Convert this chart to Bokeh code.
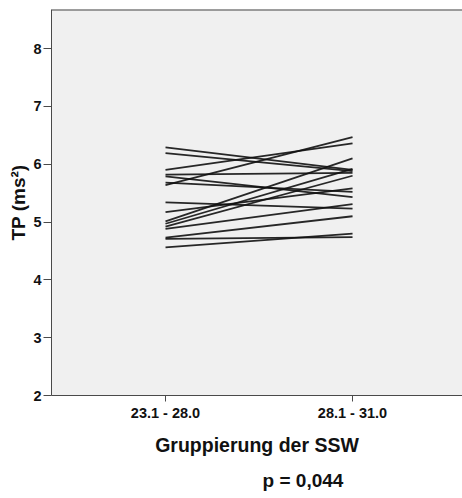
from bokeh.plotting import figure
from bokeh.models import FixedTicker, Span, LinearAxis
from bokeh.embed import file_html
from bokeh.resources import INLINE

# Gestational-age groups (weeks of pregnancy)
groups = ["23.1 - 28.0", "28.1 - 31.0"]

# TP (ms²) per subject: first group value, second group value
tp_first = [6.29, 6.19, 5.90, 5.82, 5.79, 5.68, 5.64, 5.34,
            5.17, 5.01, 4.97, 4.92, 4.88, 4.73, 4.71, 4.56]
tp_second = [5.90, 5.88, 6.36, 5.85, 5.43, 5.52, 6.47, 5.23,
             5.58, 6.10, 5.92, 5.80, 5.31, 5.10, 4.74, 4.80]

y_ticks = [2, 3, 4, 5, 6, 7, 8]
p_text = "p = 0,044"

FONT = "Liberation Sans"
AXIS_GREY = "#4a4a4a"
TEXT = "#111111"

p = figure(
    width=462, height=498,
    x_range=(-0.6096, 1.588), y_range=(2, 8.675),
    min_border_left=51, min_border_right=0,
    min_border_top=9, min_border_bottom=103,
    output_backend="svg", toolbar_location=None,
)

p.background_fill_color = "#f0f0f0"
p.border_fill_color = "white"
p.outline_line_color = None
p.xgrid.visible = False
p.ygrid.visible = False

# one line per subject between the two groups
xs = [[0, 1] for _ in tp_first]
ys = [[a, b] for a, b in zip(tp_first, tp_second)]
p.multi_line(xs, ys, line_color="#111111", line_width=1.8, line_alpha=0.9)

# top border of the plot frame
p.add_layout(Span(location=8.675, dimension="width",
                  line_color="#444444", line_width=2))

# x axis
p.xaxis.ticker = FixedTicker(ticks=list(range(len(groups))))
p.xaxis.major_label_overrides = {i: g for i, g in enumerate(groups)}
p.xaxis.minor_tick_line_color = None
p.xaxis.major_tick_out = 6
p.xaxis.major_tick_in = 0
p.xaxis.axis_line_color = AXIS_GREY
p.xaxis.major_tick_line_color = AXIS_GREY
p.xaxis.major_label_standoff = 3
p.xaxis.major_label_text_font = FONT
p.xaxis.major_label_text_font_style = "bold"
p.xaxis.major_label_text_font_size = "14.5px"
p.xaxis.major_label_text_color = TEXT
p.xaxis.axis_label = "Gruppierung der SSW"
p.xaxis.axis_label_text_font = FONT
p.xaxis.axis_label_text_font_style = "bold"
p.xaxis.axis_label_text_font_size = "19.5px"
p.xaxis.axis_label_text_color = TEXT
p.xaxis.axis_label_standoff = 10

# y axis
p.yaxis.ticker = FixedTicker(ticks=y_ticks)
p.yaxis.minor_tick_line_color = None
p.yaxis.major_tick_out = 8
p.yaxis.major_tick_in = 0
p.yaxis.axis_line_color = AXIS_GREY
p.yaxis.major_tick_line_color = AXIS_GREY
p.yaxis.major_label_standoff = 2
p.yaxis.major_label_text_font = FONT
p.yaxis.major_label_text_font_style = "bold"
p.yaxis.major_label_text_font_size = "14.5px"
p.yaxis.major_label_text_color = TEXT
p.yaxis.axis_label = "TP (ms²)"
p.yaxis.axis_label_text_font = FONT
p.yaxis.axis_label_text_font_style = "bold"
p.yaxis.axis_label_text_font_size = "19px"
p.yaxis.axis_label_text_color = TEXT
p.yaxis.axis_label_standoff = 1

# significance note: a bare axis below the title carrying one label
NOTE_X = 0.735
note_axis = LinearAxis(
    ticker=FixedTicker(ticks=[NOTE_X]),
    major_label_overrides={NOTE_X: p_text},
    axis_line_color=None, major_tick_line_color=None,
    minor_tick_line_color=None, major_tick_out=0, major_tick_in=0,
    major_label_standoff=11,
    major_label_text_font=FONT, major_label_text_font_style="bold",
    major_label_text_font_size="19px", major_label_text_color=TEXT,
)
p.add_layout(note_axis, "below")

open("out.html", "w").write(file_html(p, INLINE))
